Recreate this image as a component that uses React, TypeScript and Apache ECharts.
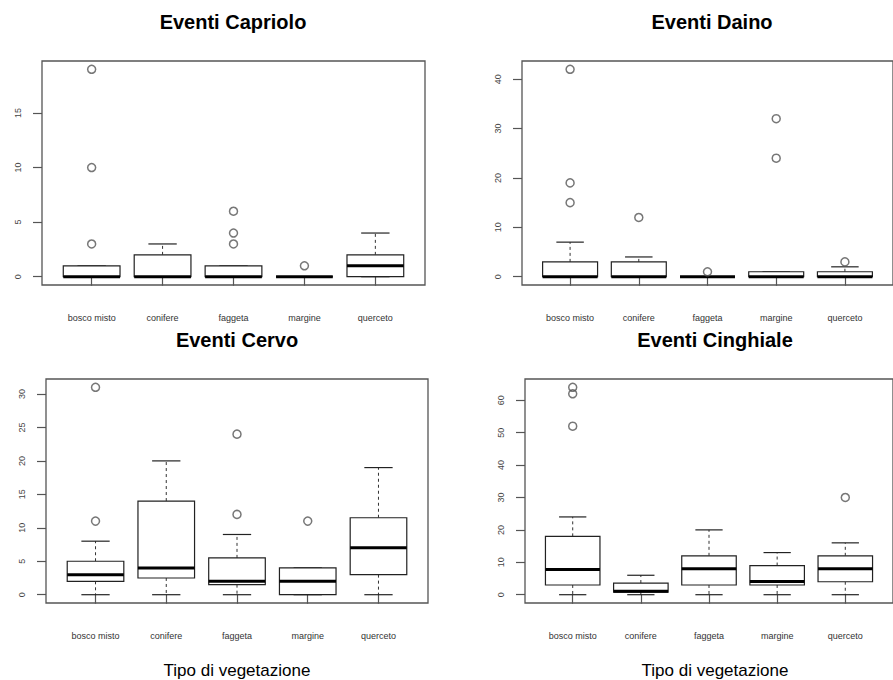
import React, { useEffect, useRef } from "react";
import * as echarts from "echarts";

const categories = ["bosco misto", "conifere", "faggeta", "margine", "querceto"];

// [lower whisker, Q1, median, Q3, upper whisker]
const caprioloStats = [
  [0, 0, 0, 1, 1],
  [0, 0, 0, 2, 3],
  [0, 0, 0, 1, 1],
  [0, 0, 0, 0, 0],
  [0, 0, 1, 2, 4],
];
const caprioloOutliers = [[3, 10, 19], [], [3, 4, 6], [1], []];
const caprioloTicks = [0, 5, 10, 15];

const dainoStats = [
  [0, 0, 0, 3, 7],
  [0, 0, 0, 3, 4],
  [0, 0, 0, 0, 0],
  [0, 0, 0, 1, 1],
  [0, 0, 0, 1, 2],
];
const dainoOutliers = [[15, 19, 42], [12], [1], [24, 32], [3]];
const dainoTicks = [0, 10, 20, 30, 40];

const cervoStats = [
  [0, 2, 3, 5, 8],
  [0, 2.5, 4, 14, 20],
  [0, 1.5, 2, 5.5, 9],
  [0, 0, 2, 4, 4],
  [0, 3, 7, 11.5, 19],
];
const cervoOutliers = [[11, 31], [], [12, 24], [11], []];
const cervoTicks = [0, 5, 10, 15, 20, 25, 30];

const cinghialeStats = [
  [0, 3, 7.8, 18, 24],
  [0, 0.8, 1.1, 3.6, 6],
  [0, 3, 8, 12, 20],
  [0, 3, 4.1, 9, 13],
  [0, 4, 8, 12, 16],
];
const cinghialeOutliers = [[52, 62, 64], [], [], [], [30]];
const cinghialeTicks = [0, 10, 20, 30, 40, 50, 60];

const titles = ["Eventi Capriolo", "Eventi Daino", "Eventi Cervo", "Eventi Cinghiale"];
const xAxisTitle = "Tipo di vegetazione";

const FONT = "'Liberation Sans', Arial, Helvetica, sans-serif";

export default function App() {
  const ref = useRef<HTMLDivElement>(null);

  useEffect(() => {
    if (!ref.current) return;
    const chart = echarts.init(ref.current, null, { renderer: "svg" });

    const panels = [
      { stats: caprioloStats, outliers: caprioloOutliers, ticks: caprioloTicks },
      { stats: dainoStats, outliers: dainoOutliers, ticks: dainoTicks },
      { stats: cervoStats, outliers: cervoOutliers, ticks: cervoTicks },
      { stats: cinghialeStats, outliers: cinghialeOutliers, ticks: cinghialeTicks },
    ];
    const layout = [
      { left: 42, top: 61, width: 383, height: 224, cx: 233, ty: 22 },
      { left: 522, top: 61, width: 382, height: 224, cx: 712, ty: 22 },
      { left: 46, top: 379, width: 382, height: 224, cx: 237, ty: 340 },
      { left: 525, top: 379, width: 382, height: 224, cx: 715, ty: 340 },
    ];

    const grids: any[] = [];
    const xAxes: any[] = [];
    const yAxes: any[] = [];
    const series: any[] = [];

    panels.forEach((p, i) => {
      const L = layout[i];
      grids.push({
        left: L.left,
        top: L.top,
        width: L.width,
        height: L.height,
        show: true,
        borderColor: "#555",
        borderWidth: 1.3,
        backgroundColor: "transparent",
      });
      const all: number[] = [];
      p.stats.forEach((s) => all.push(...s));
      p.outliers.forEach((o) => all.push(...o));
      const dmin = Math.min(...all);
      const dmax = Math.max(...all);
      const pad = (dmax - dmin) * 0.04;
      xAxes.push({
        type: "value",
        gridIndex: i,
        min: 0.3,
        max: 5.7,
        axisLine: { show: false },
        splitLine: { show: false },
        axisTick: {
          show: true,
          length: 9,
          customValues: [1, 2, 3, 4, 5],
          lineStyle: { color: "#555", width: 1.2 },
        },
        axisLabel: {
          customValues: [1, 2, 3, 4, 5],
          formatter: (v: number) => categories[Math.round(v) - 1] || "",
          margin: 28,
          fontSize: 9,
          color: "#333",
          fontFamily: FONT,
        },
      });
      yAxes.push({
        type: "value",
        gridIndex: i,
        min: dmin - pad,
        max: dmax + pad,
        axisLine: { show: false },
        splitLine: { show: false },
        axisTick: {
          show: true,
          length: 9,
          customValues: p.ticks,
          lineStyle: { color: "#555", width: 1.2 },
        },
        axisLabel: {
          customValues: p.ticks,
          rotate: 90,
          margin: 20,
          fontSize: 9,
          color: "#444",
          fontFamily: FONT,
        },
      });
      series.push({
        type: "custom",
        xAxisIndex: i,
        yAxisIndex: i,
        data: p.stats.map((s, k) => [k + 1, ...s]),
        renderItem: (params: any, api: any) => {
          const x = api.value(0);
          const lo = api.value(1);
          const q1 = api.value(2);
          const med = api.value(3);
          const q3 = api.value(4);
          const hi = api.value(5);
          const bw = api.size([0.8, 0])[0];
          const cw = bw / 2;
          const pLo = api.coord([x, lo]);
          const pQ1 = api.coord([x, q1]);
          const pMed = api.coord([x, med]);
          const pQ3 = api.coord([x, q3]);
          const pHi = api.coord([x, hi]);
          const cx = pLo[0];
          const dash = { stroke: "#333", lineWidth: 1, lineDash: [3, 3] };
          const solid = { stroke: "#222", lineWidth: 1.2 };
          return {
            type: "group",
            children: [
              { type: "line", shape: { x1: cx, y1: pQ1[1], x2: cx, y2: pLo[1] }, style: dash },
              { type: "line", shape: { x1: cx, y1: pQ3[1], x2: cx, y2: pHi[1] }, style: dash },
              { type: "line", shape: { x1: cx - cw / 2, y1: pLo[1], x2: cx + cw / 2, y2: pLo[1] }, style: solid },
              { type: "line", shape: { x1: cx - cw / 2, y1: pHi[1], x2: cx + cw / 2, y2: pHi[1] }, style: solid },
              {
                type: "rect",
                shape: { x: cx - bw / 2, y: pQ3[1], width: bw, height: pQ1[1] - pQ3[1] },
                style: { fill: "#fff", stroke: "#222", lineWidth: 1.2 },
              },
              {
                type: "line",
                shape: { x1: cx - bw / 2, y1: pMed[1], x2: cx + bw / 2, y2: pMed[1] },
                style: { stroke: "#000", lineWidth: 3 },
              },
            ],
          };
        },
      });
      const pts: number[][] = [];
      p.outliers.forEach((o, k) => o.forEach((v) => pts.push([k + 1, v])));
      series.push({
        type: "scatter",
        xAxisIndex: i,
        yAxisIndex: i,
        data: pts,
        symbol: "circle",
        symbolSize: 8,
        z: 5,
        itemStyle: { color: "transparent", borderColor: "#555", borderWidth: 1.5 },
      });
    });

    const graphic: any[] = [];
    layout.forEach((L, i) => {
      graphic.push({
        type: "text",
        x: L.cx,
        y: L.ty,
        style: {
          text: titles[i],
          font: `bold 20px ${FONT}`,
          fill: "#000",
          textAlign: "center",
          textVerticalAlign: "middle",
        },
      });
    });
    [237, 715].forEach((cx) => {
      graphic.push({
        type: "text",
        x: cx,
        y: 670,
        style: {
          text: xAxisTitle,
          font: `17px ${FONT}`,
          fill: "#000",
          textAlign: "center",
          textVerticalAlign: "middle",
        },
      });
    });

    chart.setOption({
      animation: false,
      backgroundColor: "#fff",
      grid: grids,
      xAxis: xAxes,
      yAxis: yAxes,
      series,
      graphic,
    });

    return () => chart.dispose();
  }, []);

  return (
    <div
      ref={ref}
      style={{ position: "absolute", left: 0, top: 0, width: 893, height: 680 }}
    />
  );
}
